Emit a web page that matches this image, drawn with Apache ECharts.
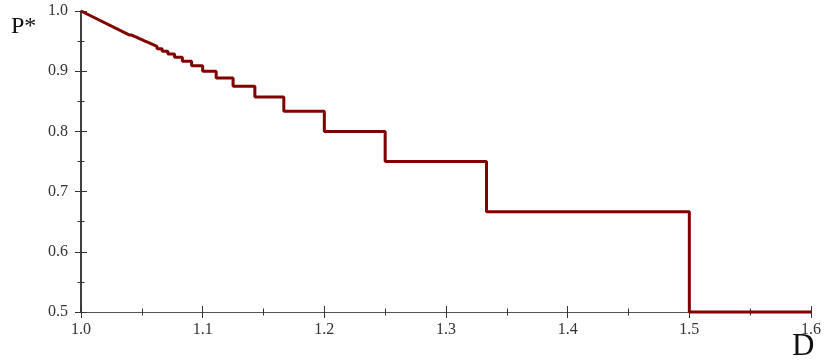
<!DOCTYPE html>
<html><head><meta charset="utf-8">
<script src="https://cdn.jsdelivr.net/npm/echarts@6/dist/echarts.min.js"></script>
<style>html,body{margin:0;padding:0;background:#fff}#c{width:824px;height:360px}</style>
</head><body><div id="c"></div>
<script>
// step levels P* and the D interval on which each holds
const stepStartD = [1.5, 1.3333, 1.25, 1.2, 1.1667, 1.1429, 1.125, 1.1111, 1.1, 1.0909, 1.0833, 1.0769, 1.0714, 1.0667, 1.0625, 1.0588, 1.0556, 1.0526, 1.05, 1.0476, 1.0455, 1.0435, 1.0417, 1.04];
const stepEndD   = [1.6, 1.5, 1.3333, 1.25, 1.2, 1.1667, 1.1429, 1.125, 1.1111, 1.1, 1.0909, 1.0833, 1.0769, 1.0714, 1.0667, 1.0625, 1.0588, 1.0556, 1.0526, 1.05, 1.0476, 1.0455, 1.0435, 1.0417];
const stepP      = [0.5, 0.6667, 0.75, 0.8, 0.8333, 0.8571, 0.875, 0.8889, 0.9, 0.9091, 0.9167, 0.9231, 0.9286, 0.9333, 0.9375, 0.9412, 0.9444, 0.9474, 0.95, 0.9524, 0.9545, 0.9565, 0.9583, 0.96];
const startPoint = [1.0, 1.0];
const xTicks = [1.0, 1.1, 1.2, 1.3, 1.4, 1.5, 1.6];
const yTicks = [0.5, 0.6, 0.7, 0.8, 0.9, 1.0];

const pts = [startPoint];
for (let i = stepP.length - 1; i >= 0; i--) {
  pts.push([stepStartD[i], stepP[i]]);
  pts.push([stepEndD[i], stepP[i]]);
}
const font = '"Liberation Serif", "DejaVu Serif", serif';
function xAx(inside, show) {
  return {type:'value', min:xTicks[0], max:xTicks[xTicks.length-1], interval:0.1, position:'bottom',
    axisLine:{show:show, onZero:false, lineStyle:{color:'#555', width:1}},
    axisTick:{show:true, inside:inside, length:6, lineStyle:{color:'#333', width:1}},
    minorTick:{show:true, splitNumber:2, length:3.5, lineStyle:{color:'#333', width:1}},
    axisLabel:{show:show, fontFamily:font, fontSize:16, color:'#333', margin:10, formatter:v=>v.toFixed(1)},
    splitLine:{show:false}};
}
function yAx(inside, show) {
  return {type:'value', min:yTicks[0], max:yTicks[yTicks.length-1], interval:0.1, position:'left',
    axisLine:{show:show, onZero:false, lineStyle:{color:'#000', width:1.5}},
    axisTick:{show:true, inside:inside, length:6, lineStyle:{color:'#333', width:1}},
    minorTick:{show:true, splitNumber:2, length:3.5, lineStyle:{color:'#333', width:1}},
    axisLabel:{show:show, fontFamily:font, fontSize:16, color:'#333', margin:13, formatter:v=>v.toFixed(1)},
    splitLine:{show:false}};
}
const chart = echarts.init(document.getElementById('c'));
chart.setOption({
  animation:false,
  grid:{left:81, right:13, top:11, bottom:48},
  xAxis:[xAx(false, true), xAx(true, false)],
  yAxis:[yAx(false, true), yAx(true, false)],
  graphic:[
    {type:'text', left:11, top:15, style:{text:'P*', font:'24px ' + font, fill:'#111'}},
    {type:'text', left:792, top:331, style:{text:'D', font:'31px ' + font, fill:'#111'}}
  ],
  series:[{type:'line', data:pts, showSymbol:false, xAxisIndex:0, yAxisIndex:0,
    lineStyle:{color:'#800000', width:3}, clip:false}]
});
</script></body></html>
